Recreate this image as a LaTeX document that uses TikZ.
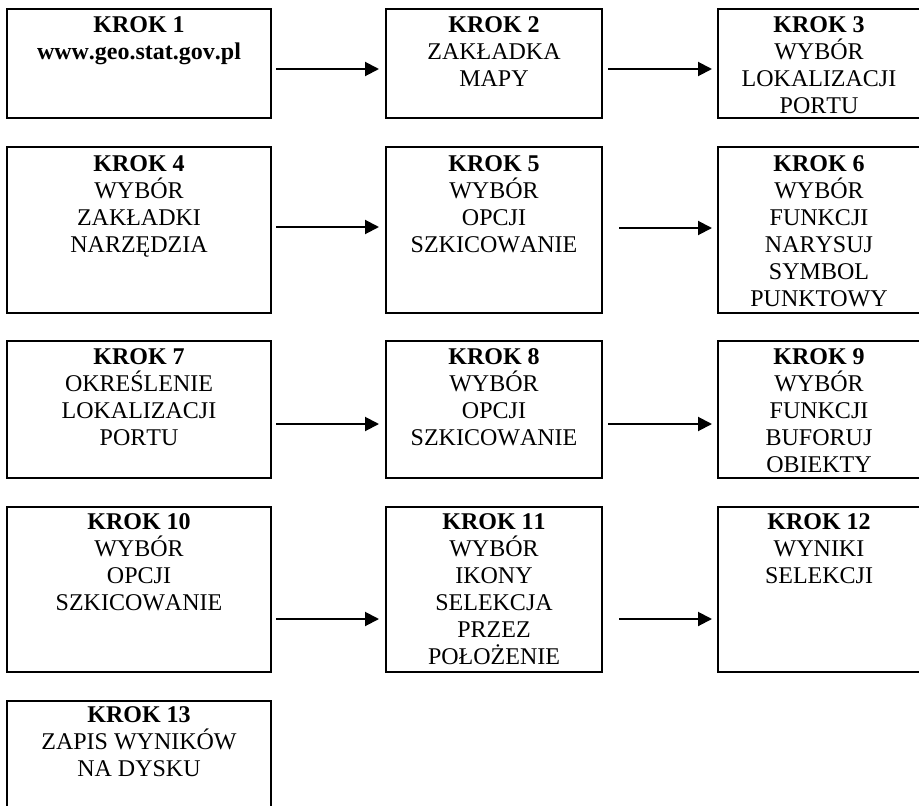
\documentclass[tikz,border=0pt]{standalone}
\usepackage{fontspec}
\setmainfont{Liberation Serif}[Kerning=Off]
\usetikzlibrary{arrows.meta}
\tikzset{
  stepbox/.style={draw=black, line width=2pt, rectangle, inner sep=0pt, outer sep=0pt},
  steptext/.style={anchor=north, align=center, inner sep=0pt, font=\fontsize{24}{27}\selectfont},
  arr/.style={line width=2pt, -{Triangle[length=14pt,width=14pt]}}
}
\begin{document}
\begin{tikzpicture}[x=1pt,y=-1pt]
\useasboundingbox (0,0) rectangle (919,806);
\clip (0,0) rectangle (919,806);
% boxes
\node[stepbox, minimum width=264pt, minimum height=109pt] (k1) at (139,63.5) {};
\node[stepbox, minimum width=216pt, minimum height=109pt] (k2) at (494,63.5) {};
\node[stepbox, minimum width=202pt, minimum height=109pt] (k3) at (819,63.5) {};
\node[stepbox, minimum width=264pt, minimum height=166pt] (k4) at (139,230) {};
\node[stepbox, minimum width=216pt, minimum height=166pt] (k5) at (494,230) {};
\node[stepbox, minimum width=202pt, minimum height=166pt] (k6) at (819,230) {};
\node[stepbox, minimum width=264pt, minimum height=137pt] (k7) at (139,409.5) {};
\node[stepbox, minimum width=216pt, minimum height=137pt] (k8) at (494,409.5) {};
\node[stepbox, minimum width=202pt, minimum height=137pt] (k9) at (819,409.5) {};
\node[stepbox, minimum width=264pt, minimum height=165pt] (k10) at (139,589.5) {};
\node[stepbox, minimum width=216pt, minimum height=165pt] (k11) at (494,589.5) {};
\node[stepbox, minimum width=202pt, minimum height=165pt] (k12) at (819,589.5) {};
\node[stepbox, minimum width=264pt, minimum height=129pt] (k13) at (139,765.5) {};
% texts
\node[steptext] (t1) at ([yshift=-7.5pt]k1.north) {\textbf{KROK 1}\\\textbf{www.geo.stat.gov.pl}};
\node[steptext] (t2) at ([yshift=-7.5pt]k2.north) {\textbf{KROK 2}\\ZAKŁADKA\\MAPY};
\node[steptext] (t3) at ([yshift=-7.5pt]k3.north) {\textbf{KROK 3}\\WYBÓR\\LOKALIZACJI\\PORTU};
\node[steptext] (t4) at ([yshift=-8.5pt]k4.north) {\textbf{KROK 4}\\WYBÓR\\ZAKŁADKI\\NARZĘDZIA};
\node[steptext] (t5) at ([yshift=-8.5pt]k5.north) {\textbf{KROK 5}\\WYBÓR\\OPCJI\\SZKICOWANIE};
\node[steptext] (t6) at ([yshift=-8.5pt]k6.north) {\textbf{KROK 6}\\WYBÓR\\FUNKCJI\\NARYSUJ\\SYMBOL\\PUNKTOWY};
\node[steptext] (t7) at ([yshift=-7.5pt]k7.north) {\textbf{KROK 7}\\OKREŚLENIE\\LOKALIZACJI\\PORTU};
\node[steptext] (t8) at ([yshift=-7.5pt]k8.north) {\textbf{KROK 8}\\WYBÓR\\OPCJI\\SZKICOWANIE};
\node[steptext] (t9) at ([yshift=-7.5pt]k9.north) {\textbf{KROK 9}\\WYBÓR\\FUNKCJI\\BUFORUJ\\OBIEKTY};
\node[steptext] (t10) at ([yshift=-6pt]k10.north) {\textbf{KROK 10}\\WYBÓR\\OPCJI\\SZKICOWANIE};
\node[steptext] (t11) at ([yshift=-6pt]k11.north) {\textbf{KROK 11}\\WYBÓR\\IKONY\\SELEKCJA\\PRZEZ\\POŁOŻENIE};
\node[steptext] (t12) at ([yshift=-6pt]k12.north) {\textbf{KROK 12}\\WYNIKI\\SELEKCJI};
\node[steptext] (t13) at ([yshift=-5pt]k13.north) {\textbf{KROK 13}\\ZAPIS WYNIKÓW\\NA DYSKU};
% arrows
\draw[arr] ([xshift=5pt,yshift=-5.5pt]k1.east) -- ([xshift=-7pt,yshift=-5.5pt]k2.west);
\draw[arr] ([xshift=6pt,yshift=-5.5pt]k2.east) -- ([xshift=-6pt,yshift=-5.5pt]k3.west);
\draw[arr] ([xshift=5pt,yshift=3pt]k4.east) -- ([xshift=-7pt,yshift=3pt]k5.west);
\draw[arr] ([xshift=17pt,yshift=2pt]k5.east) -- ([xshift=-6pt,yshift=2pt]k6.west);
\draw[arr] ([xshift=5pt,yshift=-14.5pt]k7.east) -- ([xshift=-7pt,yshift=-14.5pt]k8.west);
\draw[arr] ([xshift=6pt,yshift=-14.5pt]k8.east) -- ([xshift=-6pt,yshift=-14.5pt]k9.west);
\draw[arr] ([xshift=5pt,yshift=-29.5pt]k10.east) -- ([xshift=-7pt,yshift=-29.5pt]k11.west);
\draw[arr] ([xshift=17pt,yshift=-29.5pt]k11.east) -- ([xshift=-6pt,yshift=-29.5pt]k12.west);
\end{tikzpicture}
\end{document}
